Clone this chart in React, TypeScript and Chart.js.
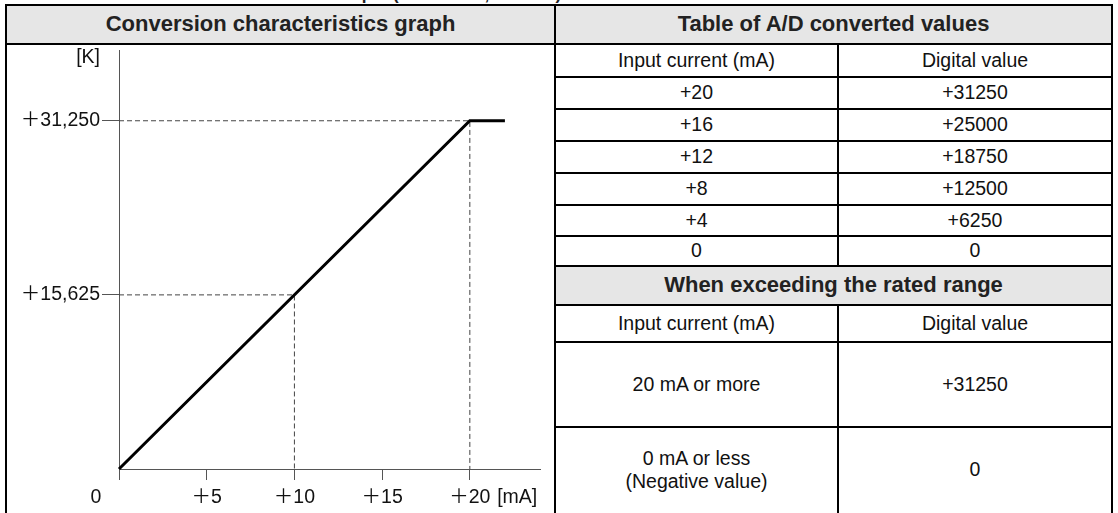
import React, { useEffect, useRef } from "react";
import { Chart, registerables } from "chart.js";

Chart.register(...registerables);

// ---- data ----
const lineX = [0, 20, 22];
const lineY = [0, 31250, 31250];
const guideHighX = [0, 20, 20];
const guideHighY = [31250, 31250, 0];
const guideMidX = [0, 10, 10];
const guideMidY = [15625, 15625, 0];
const xTickValues = [0, 5, 10, 15, 20, 22.7];
const xTickLabels = ["", "＋5", "＋10", "＋15", "＋20", "[mA]"];
const yTickValues = [15625, 31250, 36900];
const yTickLabels = ["＋15,625", "＋31,250", "[K]"];
const originText = "0";
const tableInputs = ["+20", "+16", "+12", "+8", "+4", "0"];
const tableDigital = ["+31250", "+25000", "+18750", "+12500", "+6250", "0"];
const exceedInputs = ["20 mA or more", "0 mA or less\n(Negative value)"];
const exceedDigital = ["+31250", "0"];
const titleText = "■ Conversion characteristics for current input (0 to 20 mA, K-value)";
const graphHeader = "Conversion characteristics graph";
const tableHeader = "Table of A/D converted values";
const exceedHeader = "When exceeding the rated range";
const colInput = "Input current (mA)";
const colDigital = "Digital value";

const FONT = '"Liberation Sans", Arial, Helvetica, "Noto Sans CJK JP", sans-serif';
const AXIS = "#555";
const GUIDE = "#444";
const TEXT = "#111";
const HEAD_BG = "#e6e6e6";
const LABEL_SIZE = 19.5;

const pts = (xs: number[], ys: number[]) => xs.map((x, i) => ({ x, y: ys[i] }));

const originLabel = {
  id: "originLabel",
  afterDraw(chart: any) {
    const { ctx, scales } = chart;
    const x = scales.x;
    const y = scales.y;
    ctx.save();
    ctx.font = `${LABEL_SIZE}px ${FONT}`;
    ctx.fillStyle = TEXT;
    ctx.textAlign = "center";
    ctx.textBaseline = "middle";
    ctx.fillText(originText, x.getPixelForValue(0) - 23, y.getPixelForValue(0) + 11 + 6 + (LABEL_SIZE * 1.2) / 2);
    ctx.restore();
  },
};

function Cell(props: {
  x: number; y: number; w: number; h: number; text: string; bold?: boolean; bg?: string; size?: number;
}) {
  const { x, y, w, h, text, bold, bg, size } = props;
  return (
    <div
      style={{
        position: "absolute", left: x, top: y, width: w, height: h,
        display: "flex", alignItems: "center", justifyContent: "center",
        textAlign: "center", fontFamily: FONT, fontWeight: bold ? 700 : 400,
        fontSize: size ?? 19.5, background: bg, color: bold ? "#222" : TEXT,
        lineHeight: 1.2, whiteSpace: "pre-line",
      }}
    >
      {text}
    </div>
  );
}

function HLine({ x1, x2, y }: { x1: number; x2: number; y: number }) {
  return <div style={{ position: "absolute", left: x1, top: y - 1, width: x2 - x1, height: 2, background: "#000" }} />;
}
function VLine({ x, y1, y2 }: { x: number; y1: number; y2: number }) {
  return <div style={{ position: "absolute", left: x - 1, top: y1, width: 2, height: y2 - y1, background: "#000" }} />;
}

export default function App() {
  const ref = useRef<HTMLCanvasElement>(null);

  useEffect(() => {
    const canvas = ref.current;
    if (!canvas) return;
    const family = FONT;
    const chart = new Chart(canvas, {
      type: "scatter",
      data: {
        datasets: [
          {
            data: pts(lineX, lineY), showLine: true, borderColor: "#000", borderWidth: 3,
            pointRadius: 0, clip: false as any, tension: 0,
          },
          {
            data: pts(guideHighX, guideHighY), showLine: true, borderColor: GUIDE, borderWidth: 1,
            borderDash: [5, 3], pointRadius: 0,
          },
          {
            data: pts(guideMidX, guideMidY), showLine: true, borderColor: GUIDE, borderWidth: 1,
            borderDash: [5, 3], pointRadius: 0,
          },
        ],
      },
      options: {
        animation: false,
        responsive: false,
        maintainAspectRatio: false,
        events: [],
        layout: { padding: { left: 0, top: 5, right: 14, bottom: 0 } },
        plugins: { legend: { display: false }, tooltip: { enabled: false }, title: { display: false } },
        scales: {
          x: {
            type: "linear", position: "bottom", min: 0, max: 24,
            afterBuildTicks: (s: any) => { s.ticks = xTickValues.map((v) => ({ value: v })); },
            afterFit: (s: any) => { s.height = 44; s.paddingLeft = 0; s.paddingRight = 0; },
            ticks: {
              autoSkip: false, maxRotation: 0, minRotation: 0, padding: 6, color: TEXT,
              font: { family, size: LABEL_SIZE },
              callback: (_v: any, i: number) => xTickLabels[i],
            },
            grid: {
              drawOnChartArea: false, drawTicks: true, tickLength: 11,
              color: (c: any) => (c.index === 5 ? "rgba(0,0,0,0)" : AXIS),
              tickColor: (c: any) => (c.index === 5 ? "rgba(0,0,0,0)" : AXIS),
              lineWidth: 1,
            },
            border: { display: true, color: AXIS, width: 1 },
          },
          y: {
            type: "linear", position: "left", min: 0, max: 37600,
            afterBuildTicks: (s: any) => { s.ticks = yTickValues.map((v) => ({ value: v })); },
            afterFit: (s: any) => { s.width = 112; s.paddingTop = 0; s.paddingBottom = 0; },
            ticks: {
              autoSkip: false, padding: 2, color: TEXT,
              font: { family, size: LABEL_SIZE },
              callback: (_v: any, i: number) => yTickLabels[i],
            },
            grid: {
              drawOnChartArea: false, drawTicks: true, tickLength: 17,
              color: (c: any) => (c.index === 2 ? "rgba(0,0,0,0)" : AXIS),
              tickColor: (c: any) => (c.index === 2 ? "rgba(0,0,0,0)" : AXIS),
              lineWidth: 1,
            },
            border: { display: true, color: AXIS, width: 1 },
          },
        },
      } as any,
      plugins: [originLabel],
    });
    return () => chart.destroy();
  }, []);

  // layout positions (page coordinates)
  const L = 6, M = 555, S = 838, R = 1112, T = 5, B = 513;
  const rowsY = [44, 77, 109, 141, 173, 205, 236, 266, 305, 342, 427, 513];

  const cells: any[] = [];
  cells.push(<Cell key="gh" x={L} y={T} w={M - L} h={rowsY[0] - T} text={graphHeader} bold bg={HEAD_BG} size={22} />);
  cells.push(<Cell key="th" x={M} y={T} w={R - M} h={rowsY[0] - T} text={tableHeader} bold bg={HEAD_BG} size={22} />);
  cells.push(<Cell key="c1" x={M} y={rowsY[0]} w={S - M} h={rowsY[1] - rowsY[0]} text={colInput} />);
  cells.push(<Cell key="c2" x={S} y={rowsY[0]} w={R - S} h={rowsY[1] - rowsY[0]} text={colDigital} />);
  tableInputs.forEach((t, i) => {
    cells.push(<Cell key={"i" + i} x={M} y={rowsY[1 + i]} w={S - M} h={rowsY[2 + i] - rowsY[1 + i]} text={t} />);
    cells.push(<Cell key={"d" + i} x={S} y={rowsY[1 + i]} w={R - S} h={rowsY[2 + i] - rowsY[1 + i]} text={tableDigital[i]} />);
  });
  cells.push(<Cell key="eh" x={M} y={rowsY[7]} w={R - M} h={rowsY[8] - rowsY[7]} text={exceedHeader} bold bg={HEAD_BG} size={22} />);
  cells.push(<Cell key="e1" x={M} y={rowsY[8]} w={S - M} h={rowsY[9] - rowsY[8]} text={colInput} />);
  cells.push(<Cell key="e2" x={S} y={rowsY[8]} w={R - S} h={rowsY[9] - rowsY[8]} text={colDigital} />);
  exceedInputs.forEach((t, i) => {
    cells.push(<Cell key={"ei" + i} x={M} y={rowsY[9 + i]} w={S - M} h={rowsY[10 + i] - rowsY[9 + i]} text={t} />);
    cells.push(<Cell key={"ed" + i} x={S} y={rowsY[9 + i]} w={R - S} h={rowsY[10 + i] - rowsY[9 + i]} text={exceedDigital[i]} />);
  });

  const lines: any[] = [];
  lines.push(<HLine key="top" x1={L - 1} x2={R + 1} y={T} />);
  lines.push(<VLine key="l" x={L} y1={T - 1} y2={B} />);
  lines.push(<VLine key="m" x={M} y1={T - 1} y2={B} />);
  lines.push(<VLine key="r" x={R} y1={T - 1} y2={B} />);
  lines.push(<HLine key="h0" x1={L} x2={R} y={rowsY[0]} />);
  for (let i = 1; i <= 10; i++) lines.push(<HLine key={"h" + i} x1={M} x2={R} y={rowsY[i]} />);
  lines.push(<VLine key="s1" x={S} y1={rowsY[0]} y2={rowsY[7]} />);
  lines.push(<VLine key="s2" x={S} y1={rowsY[8]} y2={B} />);

  return (
    <div style={{ position: "absolute", left: 0, top: 0, width: 1118, height: 513, background: "#fff", overflow: "hidden" }}>
      <div style={{ position: "absolute", left: 0, top: 0, width: 1118, height: 4, overflow: "hidden" }}>
        <div style={{ position: "absolute", left: 18, top: -14, whiteSpace: "nowrap", fontFamily: FONT, fontWeight: 700, fontSize: 17, lineHeight: "17px", color: "#222" }}>
          {titleText}
        </div>
      </div>
      {cells}
      <canvas ref={ref} width={547} height={468} style={{ position: "absolute", left: 7, top: 45, width: 547, height: 468 }} />
      {lines}
    </div>
  );
}
